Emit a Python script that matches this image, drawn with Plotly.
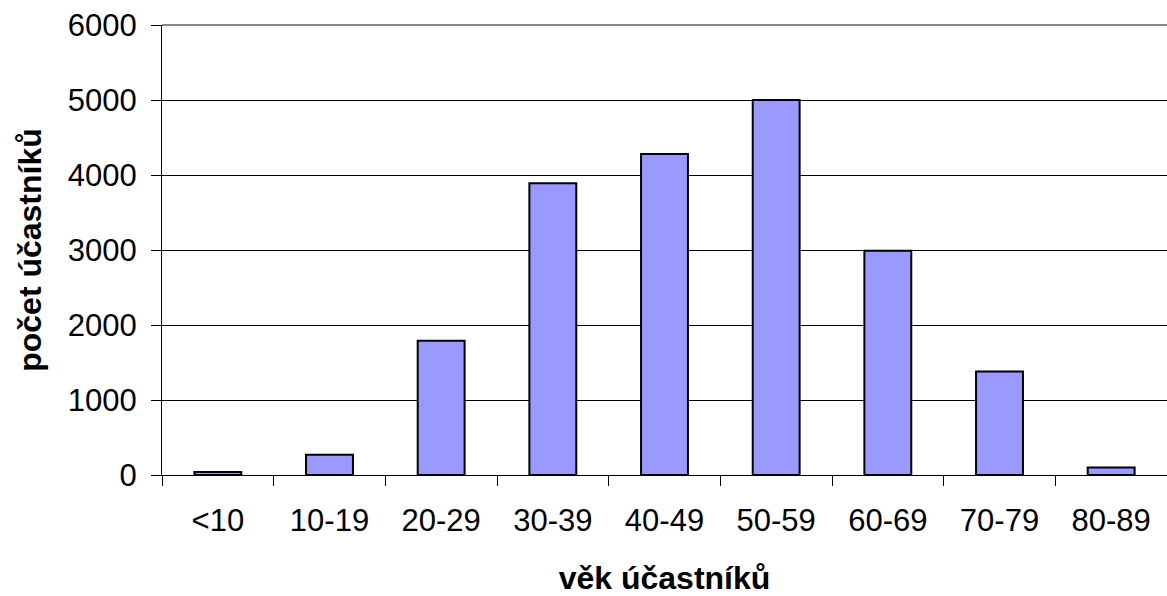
import plotly.graph_objects as go

categories = ["<10", "10-19", "20-29", "30-39", "40-49", "50-59", "60-69", "70-79", "80-89"]
counts = [40, 270, 1790, 3890, 4280, 5000, 2990, 1380, 100]
y_ticks = [0, 1000, 2000, 3000, 4000, 5000, 6000]

FONT = "Liberation Sans, Arial, sans-serif"

fig = go.Figure(go.Bar(
    x=categories, y=counts,
    marker=dict(color="#9999FF", line=dict(color="black", width=2)),
    width=0.42,
))

fig.update_layout(
    width=1167, height=596,
    margin=dict(l=162, r=0, t=25, b=121),
    plot_bgcolor="white", paper_bgcolor="white",
    font=dict(family=FONT, size=31, color="black"),
    showlegend=False,
)
fig.update_xaxes(
    type="category",
    showline=True, linecolor="black", linewidth=1,
    ticks="outside", tickson="boundaries", ticklen=10, tickcolor="black", tickwidth=1,
    tickfont=dict(size=31), ticklabelstandoff=18,
    title=dict(text="<b>věk účastníků</b>", font=dict(size=32), standoff=34),
    showgrid=False,
)
fig.update_yaxes(
    range=[0, 6000], tickvals=y_ticks,
    showline=True, linecolor="black", linewidth=1,
    ticks="outside", ticklen=10, tickcolor="black", tickwidth=1,
    showgrid=True, gridcolor="black", gridwidth=1,
    zeroline=False,
    tickfont=dict(size=31), ticklabelstandoff=8,
    title=dict(text="<b>počet účastníků</b>", font=dict(size=32), standoff=16),
)
fig.add_shape(type="line", xref="paper", yref="paper", x0=0, x1=1, y0=1, y1=1,
              line=dict(color="#888888", width=2))

fig.write_html("out.html", config={"displayModeBar": False},
               post_script="document.body.style.margin='0';")
